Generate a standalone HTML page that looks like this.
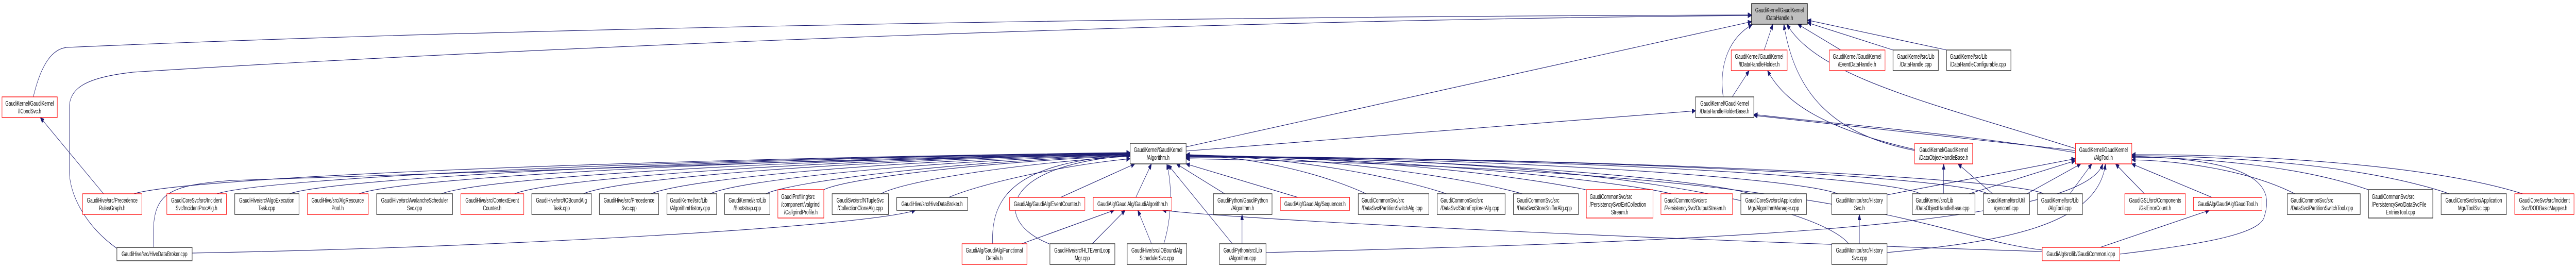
<!DOCTYPE html>
<html><head><meta charset="utf-8"><style>
html,body{margin:0;padding:0;background:#fff;width:100%;height:100%;overflow:hidden;}
svg{display:block;position:absolute;left:0;top:0;width:100vw;height:100vh;}
text{font-family:"Liberation Sans",Arial,sans-serif;font-size:12.8px;fill:#000;}
.r{fill:#fff;stroke:#ff0000;stroke-width:1.3;}
.k{fill:#fff;stroke:#333;stroke-width:1.5;}
.g{fill:#bfbfbf;stroke:#000;stroke-width:1.3;}
.e{fill:none;stroke:#191970;stroke-width:1.1;marker-end:url(#a);}
</style></head><body>
<svg viewBox="0 0 7736 520" preserveAspectRatio="none" xmlns="http://www.w3.org/2000/svg" overflow="hidden">
<defs><marker id="a" markerUnits="userSpaceOnUse" markerWidth="12" markerHeight="10" refX="11" refY="4.5" orient="auto"><path d="M0,0 L11,4.5 L0,9 z" fill="#191970" stroke="#191970"/></marker></defs>
<g>
<path class="e" d="M402,376 C560,345 1800,310 3394,296"/>
<path class="e" d="M651,376 C800,345 2000,308 3394,297"/>
<path class="e" d="M869,376 C1000,346 2100,308 3394,297"/>
<path class="e" d="M1078,376 C1200,346 2200,309 3394,298"/>
<path class="e" d="M1325,376 C1450,346 2300,310 3394,298"/>
<path class="e" d="M1545,376 C1650,348 2400,310 3394,299"/>
<path class="e" d="M1752,376 C1850,348 2500,311 3394,299"/>
<path class="e" d="M1955,376 C2050,350 2600,312 3394,300"/>
<path class="e" d="M2132,376 C2220,350 2750,313 3394,300"/>
<path class="e" d="M2300,376 C2380,352 2850,314 3394,301"/>
<path class="e" d="M2474,368 C2550,345 2950,315 3394,302"/>
<path class="e" d="M2645,376 C2720,350 3050,318 3394,303"/>
<path class="e" d="M2849,383 C2950,355 3200,320 3394,308"/>
<path class="e" d="M2981,473 C2975,380 3050,315 3394,301"/>
<path class="e" d="M3151,473 C2980,430 3000,320 3394,302"/>
<path class="e" d="M461,480 C455,380 480,360 700,350 S2500,310 3394,299"/>
<path class="e" d="M4103,376 C4000,345 3800,305 3562,300"/>
<path class="e" d="M4344,376 C4200,345 3900,305 3562,300"/>
<path class="e" d="M4572,376 C4400,345 4000,305 3562,301"/>
<path class="e" d="M4762,368 C4550,340 4100,305 3562,301"/>
<path class="e" d="M5020,376 C4850,350 4200,305 3562,302"/>
<path class="e" d="M5257,376 C5100,345 4300,305 3562,302"/>
<path class="e" d="M5519,376 C5400,345 4500,305 3562,303"/>
<path class="e" d="M5768,376 C5650,340 4600,305 3562,303"/>
<path class="e" d="M5971,376 C5850,340 4700,305 3562,304"/>
<path class="e" d="M6137,376 C6050,345 4800,305 3562,304"/>
<path class="e" d="M5552,473 C5460,400 4800,300 3562,306"/>
<path class="e" d="M6133,485 C5800,460 5620,330 3562,308"/>
<path class="e" d="M3898,383 L3562,318"/>
<path class="e" d="M3185,383 L3408,318"/>
<path class="e" d="M3411,383 L3458,318"/>
<path class="e" d="M3495,473 C3520,420 3520,360 3504,318"/>
<path class="e" d="M3701,473 L3508,320"/>
<path class="e" d="M3678,376 L3533,318"/>
<path class="e" d="M3068,473 L3346,408"/>
<path class="e" d="M3280,473 L3379,408"/>
<path class="e" d="M3458,473 L3417,408"/>
<path class="e" d="M6133,488 C5000,465 3800,430 3491,408"/>
<path class="e" d="M3730,473 L3730,416"/>
<path class="e" d="M311,376 L121,228"/>
<path class="e" d="M100,188 C125,120 160,95 200,92 C1500,55 3500,32 5260,29"/>
<path class="e" d="M351,482 C260,440 208,380 208,330 L208,210 C208,170 260,150 400,140 C1500,95 3500,40 5260,30"/>
<path class="e" d="M577,491 C1500,480 2600,440 2749,408"/>
<path class="e" d="M3562,285 L5260,42"/>
<path class="e" d="M3562,293 L5092,215"/>
<path class="e" d="M5175,188 C5160,120 5200,70 5262,48"/>
<path class="e" d="M5202,188 L5253,137"/>
<path class="e" d="M5298,97 L5324,47"/>
<path class="e" d="M5528,97 L5399,47"/>
<path class="e" d="M5685,97 L5428,44"/>
<path class="e" d="M5846,97 L5428,39"/>
<path class="e" d="M5750,292 C5500,260 5390,180 5357,47"/>
<path class="e" d="M5750,290 C5480,250 5360,200 5308,137"/>
<path class="e" d="M6232,288 C5800,200 5460,150 5366,47"/>
<path class="e" d="M6232,292 L5267,224"/>
<path class="e" d="M6232,296 C5900,260 5500,240 5267,222"/>
<path class="e" d="M5837,376 L5837,318"/>
<path class="e" d="M5913,376 L6232,312"/>
<path class="e" d="M5984,376 L5880,318"/>
<path class="e" d="M6087,376 L6249,318"/>
<path class="e" d="M6216,376 L6282,318"/>
<path class="e" d="M5668,378 L6232,308"/>
<path class="e" d="M6440,376 L6353,318"/>
<path class="e" d="M6643,383 L6402,318"/>
<path class="e" d="M6892,376 C6750,330 6550,312 6402,310"/>
<path class="e" d="M7112,368 C6900,320 6600,306 6402,305"/>
<path class="e" d="M7356,376 C7100,320 6700,303 6402,302"/>
<path class="e" d="M7576,376 C7300,320 6800,300 6402,300"/>
<path class="e" d="M6307,480 L6635,408"/>
<path class="e" d="M6366,493 C6600,475 6790,455 6800,420 C6830,360 6780,310 6402,303"/>
<path class="e" d="M5667,490 C6000,470 6300,440 6323,318"/>
<path class="e" d="M3802,490 C5000,470 6250,445 6315,318"/>
<path class="e" d="M5584,473 L5584,416"/>
</g>
<g>
<rect class="r" x="6" y="188" width="166" height="40"/><text x="89" y="205" text-anchor="middle">GaudiKernel/GaudiKernel</text><text x="89" y="220" text-anchor="middle">/ICondSvc.h</text>
<rect class="r" x="248" y="376" width="178" height="40"/><text x="337" y="393" text-anchor="middle">GaudiHive/src/Precedence</text><text x="337" y="408" text-anchor="middle">RulesGraph.h</text>
<rect class="r" x="501" y="376" width="179" height="40"/><text x="590" y="393" text-anchor="middle">GaudiCoreSvc/src/Incident</text><text x="590" y="408" text-anchor="middle">Svc/IncidentProcAlg.h</text>
<rect class="k" x="705" y="376" width="193" height="40"/><text x="801" y="393" text-anchor="middle">GaudiHive/src/AlgoExecution</text><text x="801" y="408" text-anchor="middle">Task.cpp</text>
<rect class="r" x="923" y="376" width="183" height="40"/><text x="1014" y="393" text-anchor="middle">GaudiHive/src/AlgResource</text><text x="1014" y="408" text-anchor="middle">Pool.h</text>
<rect class="k" x="1131" y="376" width="228" height="40"/><text x="1245" y="393" text-anchor="middle">GaudiHive/src/AvalancheScheduler</text><text x="1245" y="408" text-anchor="middle">Svc.cpp</text>
<rect class="r" x="1384" y="376" width="189" height="40"/><text x="1478" y="393" text-anchor="middle">GaudiHive/src/ContextEvent</text><text x="1478" y="408" text-anchor="middle">Counter.h</text>
<rect class="k" x="1597" y="376" width="179" height="40"/><text x="1686" y="393" text-anchor="middle">GaudiHive/src/IOBoundAlg</text><text x="1686" y="408" text-anchor="middle">Task.cpp</text>
<rect class="k" x="1800" y="376" width="178" height="40"/><text x="1889" y="393" text-anchor="middle">GaudiHive/src/Precedence</text><text x="1889" y="408" text-anchor="middle">Svc.cpp</text>
<rect class="k" x="2003" y="376" width="149" height="40"/><text x="2012" y="393">GaudiKernel/src/Lib</text><text x="2012" y="408">/AlgorithmHistory.cpp</text>
<rect class="k" x="2176" y="376" width="136" height="40"/><text x="2244" y="393" text-anchor="middle">GaudiKernel/src/Lib</text><text x="2244" y="408" text-anchor="middle">/Bootstrap.cpp</text>
<rect class="r" x="2336" y="368" width="138" height="55"/><text x="2346" y="386">GaudiProfiling/src</text><text x="2346" y="401">/component/valgrind</text><text x="2405" y="416" text-anchor="middle">/CallgrindProfile.h</text>
<rect class="k" x="2499" y="376" width="169" height="40"/><text x="2583" y="393" text-anchor="middle">GaudiSvc/src/NTupleSvc</text><text x="2583" y="408" text-anchor="middle">/CollectionCloneAlg.cpp</text>
<rect class="k" x="2693" y="383" width="213" height="25"/><text x="2799" y="400" text-anchor="middle">GaudiHive/src/HiveDataBroker.h</text>
<rect class="r" x="3032" y="383" width="226" height="25"/><text x="3145" y="400" text-anchor="middle">GaudiAlg/GaudiAlg/EventCounter.h</text>
<rect class="r" x="3283" y="383" width="236" height="25"/><text x="3401" y="400" text-anchor="middle">GaudiAlg/GaudiAlg/GaudiAlgorithm.h</text>
<rect class="k" x="3644" y="376" width="176" height="40"/><text x="3732" y="393" text-anchor="middle">GaudiPython/GaudiPython</text><text x="3732" y="408" text-anchor="middle">/Algorithm.h</text>
<rect class="r" x="3845" y="383" width="208" height="25"/><text x="3949" y="400" text-anchor="middle">GaudiAlg/GaudiAlg/Sequencer.h</text>
<rect class="k" x="4079" y="376" width="212" height="40"/><text x="4089" y="393">GaudiCommonSvc/src</text><text x="4089" y="408">/DataSvc/PartitionSwitchAlg.cpp</text>
<rect class="k" x="4316" y="376" width="204" height="40"/><text x="4326" y="393">GaudiCommonSvc/src</text><text x="4326" y="408">/DataSvc/StoreExplorerAlg.cpp</text>
<rect class="k" x="4545" y="376" width="195" height="40"/><text x="4555" y="393">GaudiCommonSvc/src</text><text x="4555" y="408">/DataSvc/StoreSnifferAlg.cpp</text>
<rect class="r" x="4764" y="368" width="200" height="55"/><text x="4774" y="386">GaudiCommonSvc/src</text><text x="4774" y="401">/PersistencySvc/EvtCollection</text><text x="4864" y="416" text-anchor="middle">Stream.h</text>
<rect class="r" x="4988" y="376" width="215" height="40"/><text x="4998" y="393">GaudiCommonSvc/src</text><text x="4998" y="408">/PersistencySvc/OutputStream.h</text>
<rect class="k" x="5228" y="376" width="197" height="40"/><text x="5326" y="393" text-anchor="middle">GaudiCoreSvc/src/Application</text><text x="5326" y="408" text-anchor="middle">Mgr/AlgorithmManager.cpp</text>
<rect class="k" x="5501" y="376" width="166" height="40"/><text x="5584" y="393" text-anchor="middle">GaudiMonitor/src/History</text><text x="5584" y="408" text-anchor="middle">Svc.h</text>
<rect class="k" x="5743" y="376" width="188" height="40"/><text x="5753" y="393">GaudiKernel/src/Lib</text><text x="5753" y="408">/DataObjectHandleBase.cpp</text>
<rect class="k" x="5956" y="376" width="139" height="40"/><text x="6025" y="393" text-anchor="middle">GaudiKernel/src/Util</text><text x="6025" y="408" text-anchor="middle">/genconf.cpp</text>
<rect class="k" x="6119" y="376" width="135" height="40"/><text x="6186" y="393" text-anchor="middle">GaudiKernel/src/Lib</text><text x="6186" y="408" text-anchor="middle">/AlgTool.cpp</text>
<rect class="r" x="6381" y="376" width="182" height="40"/><text x="6472" y="393" text-anchor="middle">GaudiGSL/src/Components</text><text x="6472" y="408" text-anchor="middle">/GslErrorCount.h</text>
<rect class="r" x="6587" y="383" width="206" height="25"/><text x="6690" y="400" text-anchor="middle">GaudiAlg/GaudiAlg/GaudiTool.h</text>
<rect class="k" x="6869" y="376" width="219" height="40"/><text x="6879" y="393">GaudiCommonSvc/src</text><text x="6879" y="408">/DataSvc/PartitionSwitchTool.cpp</text>
<rect class="k" x="7113" y="368" width="193" height="55"/><text x="7123" y="386">GaudiCommonSvc/src</text><text x="7123" y="401">/PersistencySvc/DataSvcFile</text><text x="7209" y="416" text-anchor="middle">EntriesTool.cpp</text>
<rect class="k" x="7331" y="376" width="196" height="40"/><text x="7429" y="393" text-anchor="middle">GaudiCoreSvc/src/Application</text><text x="7429" y="408" text-anchor="middle">Mgr/ToolSvc.cpp</text>
<rect class="r" x="7552" y="376" width="178" height="40"/><text x="7641" y="393" text-anchor="middle">GaudiCoreSvc/src/Incident</text><text x="7641" y="408" text-anchor="middle">Svc/DODBasicMapper.h</text>
<rect class="k" x="351" y="480" width="226" height="26"/><text x="464" y="497" text-anchor="middle">GaudiHive/src/HiveDataBroker.cpp</text>
<rect class="r" x="2889" y="473" width="195" height="40"/><text x="2986" y="490" text-anchor="middle">GaudiAlg/GaudiAlg/Functional</text><text x="2986" y="505" text-anchor="middle">Details.h</text>
<rect class="k" x="3153" y="473" width="195" height="40"/><text x="3250" y="490" text-anchor="middle">GaudiHive/src/HLTEventLoop</text><text x="3250" y="505" text-anchor="middle">Mgr.cpp</text>
<rect class="k" x="3385" y="473" width="179" height="40"/><text x="3474" y="490" text-anchor="middle">GaudiHive/src/IOBoundAlg</text><text x="3474" y="505" text-anchor="middle">SchedulerSvc.cpp</text>
<rect class="k" x="3662" y="473" width="140" height="40"/><text x="3732" y="490" text-anchor="middle">GaudiPython/src/Lib</text><text x="3732" y="505" text-anchor="middle">/Algorithm.cpp</text>
<rect class="k" x="5501" y="473" width="166" height="40"/><text x="5584" y="490" text-anchor="middle">GaudiMonitor/src/History</text><text x="5584" y="505" text-anchor="middle">Svc.cpp</text>
<rect class="r" x="6133" y="480" width="233" height="26"/><text x="6249" y="497" text-anchor="middle">GaudiAlg/src/lib/GaudiCommon.icpp</text>
<rect class="k" x="3394" y="278" width="168" height="40"/><text x="3478" y="295" text-anchor="middle">GaudiKernel/GaudiKernel</text><text x="3478" y="310" text-anchor="middle">/Algorithm.h</text>
<rect class="r" x="5750" y="278" width="174" height="40"/><text x="5837" y="295" text-anchor="middle">GaudiKernel/GaudiKernel</text><text x="5837" y="310" text-anchor="middle">/DataObjectHandleBase.h</text>
<rect class="r" x="6233" y="278" width="169" height="40"/><text x="6317" y="295" text-anchor="middle">GaudiKernel/GaudiKernel</text><text x="6317" y="310" text-anchor="middle">/AlgTool.h</text>
<rect class="k" x="5092" y="188" width="175" height="40"/><text x="5179" y="205" text-anchor="middle">GaudiKernel/GaudiKernel</text><text x="5179" y="220" text-anchor="middle">/DataHandleHolderBase.h</text>
<rect class="r" x="5199" y="97" width="168" height="40"/><text x="5283" y="114" text-anchor="middle">GaudiKernel/GaudiKernel</text><text x="5283" y="129" text-anchor="middle">/IDataHandleHolder.h</text>
<rect class="r" x="5494" y="97" width="167" height="40"/><text x="5577" y="114" text-anchor="middle">GaudiKernel/GaudiKernel</text><text x="5577" y="129" text-anchor="middle">/EventDataHandle.h</text>
<rect class="k" x="5685" y="97" width="136" height="40"/><text x="5753" y="114" text-anchor="middle">GaudiKernel/src/Lib</text><text x="5753" y="129" text-anchor="middle">/DataHandle.cpp</text>
<rect class="k" x="5846" y="97" width="193" height="40"/><text x="5856" y="114">GaudiKernel/src/Lib</text><text x="5856" y="129">/DataHandleConfigurable.cpp</text>
<rect class="g" x="5260" y="7" width="168" height="40"/><text x="5344" y="24" text-anchor="middle">GaudiKernel/GaudiKernel</text><text x="5344" y="39" text-anchor="middle">/DataHandle.h</text>
</g>
</svg>
</body></html>
